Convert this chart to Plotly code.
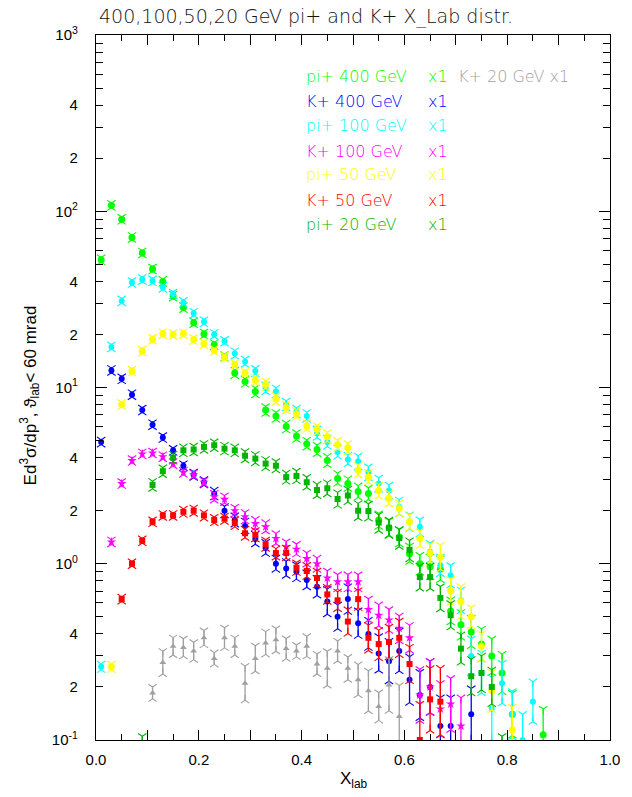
import plotly.graph_objects as go

# X_lab bin centres
x_bins = [0.01, 0.03, 0.05, 0.07, 0.09, 0.11, 0.13, 0.15, 0.17, 0.19,
          0.21, 0.23, 0.25, 0.27, 0.29, 0.31, 0.33, 0.35, 0.37, 0.39,
          0.41, 0.43, 0.45, 0.47, 0.49, 0.51, 0.53, 0.55, 0.57, 0.59,
          0.61, 0.63, 0.65, 0.67, 0.69, 0.71, 0.73, 0.75, 0.77, 0.79,
          0.81, 0.83, 0.85, 0.87]

# pi+ 400 GeV (first bin 0)
pi400_start = 0
pi400_y = [53, 108, 90, 71, 58, 47, 40, 33, 28.4, 23.3, 20.1, 17.5, 15.0, 12.1,
           10.8, 9.5, 7.45, 6.9, 6.0, 5.3, 4.8, 4.45, 3.85, 3.05, 2.85, 2.57, 2.5,
           1.77, 1.6, 1.42, 1.14, 1.0, 0.96, 0.93, 0.54, 0.45, 0.41, 0.35, 0.30,
           0.24, 0.14, None, None, 0.107]
pi400_err = [0.03, 0.03, 0.03, 0.03, 0.03, 0.03, 0.03, 0.03, 0.03, 0.03, 0.03, 0.03, 0.03, 0.04,
             0.04, 0.05, 0.05, 0.05, 0.05, 0.05, 0.05, 0.06, 0.06, 0.07, 0.07, 0.08, 0.08,
             0.09, 0.10, 0.10, 0.11, 0.12, 0.14, 0.15, 0.16, 0.18, 0.20, 0.22, 0.25,
             0.28, 0.32, None, None, 0.40]

# K+ 400 GeV (first bin 0)
k400_start = 0
k400_y = [4.9, 12.5, 11.2, 9.1, 7.45, 6.15, 5.2, 4.4, 3.6, 3.2, 2.9, 2.5, 2.0, 1.77,
          1.64, 1.38, 1.23, 1.0, 0.94, 0.9, 0.81, 0.74, 0.61, 0.50, 0.63, 0.46, 0.40,
          0.31, 0.28, 0.32, 0.22, 0.18, 0.2, 0.12, 0.12, None, 0.14]
k400_err = [0.03, 0.03, 0.03, 0.03, 0.03, 0.03, 0.03, 0.03, 0.03, 0.04, 0.04, 0.05, 0.06, 0.06,
            0.07, 0.07, 0.08, 0.08, 0.10, 0.10, 0.10, 0.12, 0.18, 0.17, 0.18, 0.18, 0.20,
            0.25, 0.30, 0.30, 0.35, 0.35, 0.40, 0.45, 0.45, None, 0.40]

# pi+ 100 GeV (first bin 0)
pi100_start = 0
pi100_y = [0.26, 17.0, 31.0, 39.4, 41.0, 40.3, 37.0, 33.9, 30.4, 26.4, 23.6, 20.0, 18.3,
           15.6, 14.0, 12.4, 9.9, 9.5, 8.0, 7.3, 6.9, 5.5, 4.9, 4.3, 3.9, 3.8, 3.3,
           2.85, 2.6, 2.1, 1.73, 1.62, 1.17, 0.98, 0.86, 0.62, 0.30, 0.24, 0.151,
           0.21, 0.14, 0.10, 0.165]
pi100_err = [0.04, 0.03, 0.03, 0.03, 0.03, 0.03, 0.03, 0.03, 0.03, 0.03, 0.03, 0.03, 0.03,
             0.04, 0.04, 0.04, 0.05, 0.05, 0.05, 0.05, 0.05, 0.06, 0.06, 0.06, 0.06, 0.08, 0.08,
             0.08, 0.08, 0.10, 0.10, 0.10, 0.12, 0.12, 0.14, 0.15, 0.25, 0.30, 0.50,
             0.30, 0.35, 0.40, 0.30]

# K+ 100 GeV (first bin 1)
k100_start = 1
k100_y = [1.33, 2.85, 3.85, 4.2, 4.25, 4.05, 3.7, 3.3, 3.2, 2.9, 2.4, 2.32, 2.0, 1.85,
          1.69, 1.62, 1.39, 1.25, 1.21, 1.07, 1.0, 0.83, 0.79, 0.79, 0.79, 0.55, 0.51,
          0.48, 0.43, 0.38, 0.18, 0.2, 0.15, 0.16, 0.12]
k100_err = [0.03, 0.03, 0.03, 0.03, 0.03, 0.03, 0.03, 0.03, 0.03, 0.03, 0.05, 0.05, 0.05, 0.06,
            0.06, 0.06, 0.07, 0.07, 0.07, 0.08, 0.08, 0.10, 0.10, 0.10, 0.10, 0.15, 0.15,
            0.15, 0.18, 0.18, 0.40, 0.40, 0.40, 0.40, 0.45]

# pi+ 50 GeV (first bin 1)
pi50_start = 1
pi50_y = [0.26, 8.0, 12.4, 16.1, 18.8, 20.2, 20.0, 20.2, 18.7, 17.7, 16.2, 14.9, 13.5,
          12.1, 11.0, 10.4, 8.6, 7.7, 7.1, 6.05, 5.8, 5.25, 4.75, 4.55, 3.40, 3.1, 2.6,
          2.35, 2.06, 1.73, 1.39, 1.15, 1.09, 0.70, 0.61, 0.50, 0.34, 0.19, None, 0.114]
pi50_err = [0.04, 0.03, 0.03, 0.03, 0.03, 0.03, 0.03, 0.03, 0.03, 0.03, 0.03, 0.03, 0.03,
            0.03, 0.04, 0.05, 0.05, 0.05, 0.05, 0.05, 0.05, 0.06, 0.06, 0.06, 0.07, 0.07, 0.08,
            0.08, 0.08, 0.09, 0.10, 0.12, 0.17, 0.17, 0.22, 0.13, 0.18, 0.28, None, 0.35]

# K+ 50 GeV (first bin 2)
k50_start = 2
k50_y = [0.63, 1.0, 1.35, 1.73, 1.88, 1.88, 1.97, 2.0, 1.88, 1.77, 1.8, 1.7, 1.49, 1.46,
         1.29, 1.15, 1.15, 0.95, 0.91, 0.83, 0.67, 0.62, 0.47, 0.63, 0.38, 0.35, 0.36,
         0.38, 0.27, 0.10, 0.17, 0.165]
k50_err = [0.03, 0.03, 0.03, 0.03, 0.03, 0.03, 0.04, 0.04, 0.04, 0.04, 0.04, 0.05, 0.06, 0.06,
           0.06, 0.06, 0.07, 0.07, 0.08, 0.10, 0.10, 0.12, 0.17, 0.12, 0.18, 0.20, 0.22,
           0.25, 0.25, 0.60, 0.50, 0.55]

# pi+ 20 GeV (first bin 4)
pi20_start = 4
pi20_y = [0.07, 2.8, 3.35, 4.0, 4.4, 4.45, 4.6, 4.7, 4.5, 4.4, 4.1, 3.95, 3.7, 3.6, 3.1,
          3.15, 2.9, 2.62, 2.68, 2.33, 2.44, 2.0, 1.99, 1.71, 1.6, 1.40, 1.20, 0.84, 0.84,
          0.64, 0.51, 0.33, 0.23, 0.24, 0.20, 0.075]
pi20_err = [0.50, 0.05, 0.05, 0.05, 0.05, 0.05, 0.05, 0.05, 0.05, 0.05, 0.06, 0.06, 0.06, 0.06,
            0.06, 0.07, 0.07, 0.08, 0.08, 0.09, 0.09, 0.10, 0.10, 0.11, 0.11, 0.12, 0.13,
            0.16, 0.16, 0.16, 0.17, 0.20, 0.25, 0.25, 0.25, 0.40]

# K+ 20 GeV (first bin 5)
k20_start = 5
k20_y = [0.185, 0.275, 0.34, 0.335, 0.32, 0.38, 0.29, 0.38, 0.34, 0.21, 0.29, 0.355, 0.37,
         0.33, 0.32, 0.34, 0.27, 0.255, 0.32, 0.255, 0.22, 0.19, 0.155, 0.205, 0.136]
k20_err = [0.08, 0.16, 0.12, 0.12, 0.12, 0.10, 0.08, 0.14, 0.12, 0.25, 0.18, 0.16, 0.16,
           0.14, 0.08, 0.14, 0.14, 0.25, 0.14, 0.16, 0.22, 0.30, 0.20, 0.40, 0.50]

# legend labels
labels = ["pi+ 400 GeV", "K+ 400 GeV", "pi+ 100 GeV", "K+ 100 GeV",
          "pi+ 50 GeV", "K+ 50 GeV", "pi+ 20 GeV"]
label_k20 = "K+ 20 GeV x1"
scale_text = "x1"

C_PI400 = "#00ff00"
C_K400 = "#0000ff"
C_PI100 = "#00ffff"
C_K100 = "#ff00ff"
C_PI50 = "#ffff00"
C_K50 = "#ff0000"
C_PI20 = "#00b400"
C_K20 = "#a0a0a0"

fig = go.Figure()


def add_series(start, ys, errs, color, symbol, size):
    xs, yv, up, dn, hi, lo = [], [], [], [], [], []
    for i, (v, e) in enumerate(zip(ys, errs)):
        if v is None:
            continue
        f = 1.0 + e
        xs.append(x_bins[start + i])
        yv.append(v)
        hi.append(v * f)
        lo.append(v / f)
        up.append(v * f - v)
        dn.append(v - v / f)
    fig.add_trace(go.Scatter(
        x=xs, y=yv, mode="markers",
        marker=dict(symbol=symbol, size=size, color=color, line=dict(width=0)),
        error_y=dict(type="data", symmetric=False, array=up, arrayminus=dn,
                     color=color, thickness=1.3, width=0),
        showlegend=False, hoverinfo="skip"))
    # Y-shaped caps at both ends of every error bar
    fig.add_trace(go.Scatter(
        x=xs + xs, y=hi + lo, mode="markers",
        marker=dict(symbol=["y-down"] * len(hi) + ["y-up"] * len(lo), size=7,
                    color=color, line=dict(color=color, width=1.1)),
        showlegend=False, hoverinfo="skip"))


add_series(pi400_start, pi400_y, pi400_err, C_PI400, "circle", 7)
add_series(k400_start, k400_y, k400_err, C_K400, "circle", 6)
add_series(pi100_start, pi100_y, pi100_err, C_PI100, "circle", 6)
add_series(k100_start, k100_y, k100_err, C_K100, "star", 7)
add_series(pi50_start, pi50_y, pi50_err, C_PI50, "circle", 7)
add_series(k50_start, k50_y, k50_err, C_K50, "square", 6)
add_series(pi20_start, pi20_y, pi20_err, C_PI20, "square", 6)
add_series(k20_start, k20_y, k20_err, C_K20, "triangle-up", 6)

# log-axis ticks: labels on decades, 2x and 4x; plain ticks on other multiples
y_tickvals, y_ticktext, y_minor = [], [], []
for p in [-1, 0, 1, 2]:
    for m in range(1, 10):
        if m == 1:
            y_tickvals.append(m * 10 ** p)
            y_ticktext.append("10<sup>%d</sup>" % p)
        elif m in (2, 4):
            y_tickvals.append(m * 10 ** p)
            y_ticktext.append(str(m))
        else:
            y_minor.append(m * 10 ** p)
y_tickvals.append(1000)
y_ticktext.append("10<sup>3</sup>")
decades = [0.1, 1, 10, 100, 1000]

x_tickvals = [0.0, 0.2, 0.4, 0.6, 0.8, 1.0]
x_ticktext = ["0.0", "0.2", "0.4", "0.6", "0.8", "1.0"]
x_odd_tenths = [0.1, 0.3, 0.5, 0.7, 0.9]
x_minor = [0.05, 0.15, 0.25, 0.35, 0.45, 0.55, 0.65, 0.75, 0.85, 0.95]

tick_font = dict(family="Liberation Sans, Arial, sans-serif", size=15, color="black")

fig.update_layout(
    width=632, height=797,
    margin=dict(l=96, r=14, t=35, b=57),
    paper_bgcolor="white", plot_bgcolor="white",
    showlegend=False,
    xaxis=dict(range=[0, 1], showgrid=False, zeroline=False,
               showline=True, linecolor="black", linewidth=1.2, mirror="ticks",
               ticks="inside", ticklen=10, tickwidth=1.2, tickcolor="black",
               tickmode="array", tickvals=x_tickvals, ticktext=x_ticktext,
               tickfont=tick_font, ticklabelstandoff=6,
               minor=dict(tickmode="array", tickvals=x_minor, ticks="inside",
                          ticklen=6, tickwidth=1.2, tickcolor="black")),
    xaxis2=dict(range=[0, 1], overlaying="x", side="bottom",
                showgrid=False, zeroline=False, showline=False, mirror="ticks",
                ticks="inside", ticklen=10, tickwidth=1.2, tickcolor="black",
                tickmode="array", tickvals=x_odd_tenths, showticklabels=False),
    yaxis=dict(type="log", range=[-1, 3], showgrid=False, zeroline=False,
               showline=True, linecolor="black", linewidth=1.2, mirror="ticks",
               ticks="inside", ticklen=7, tickwidth=1.2, tickcolor="black",
               tickmode="array", tickvals=y_tickvals, ticktext=y_ticktext,
               tickfont=tick_font, ticklabelstandoff=14,
               minor=dict(tickmode="array", tickvals=y_minor, ticks="inside",
                          ticklen=7, tickwidth=1.2, tickcolor="black")),
    yaxis2=dict(type="log", range=[-1, 3], overlaying="y", side="left",
                showgrid=False, zeroline=False, showline=False, mirror="ticks",
                ticks="inside", ticklen=11, tickwidth=1.2, tickcolor="black",
                tickmode="array", tickvals=decades, showticklabels=False),
)

# invisible trace that carries the overlay axes for the long ticks
fig.add_trace(go.Scatter(x=[0.5], y=[1], xaxis="x2", yaxis="y2", mode="markers",
                         marker=dict(opacity=0), showlegend=False, hoverinfo="skip"))

PX0, PW, PY0, PH = 95.7, 522.3, 740.0, 705.0


def px(xp):
    return (xp - PX0) / PW


def py(yp):
    return (PY0 - yp) / PH


text_font = "DejaVu Sans, sans-serif"

fig.add_annotation(text="400,100,50,20 GeV pi+ and K+ X_Lab distr.",
                   xref="paper", yref="paper", x=px(97), y=py(17),
                   xanchor="left", yanchor="middle", showarrow=False,
                   font=dict(family=text_font, size=19, color="#111111", weight=300))

legend_colors = [C_PI400, C_K400, C_PI100, C_K100, C_PI50, C_K50, C_PI20]
legend_rows = [77, 101, 126, 151, 175, 200, 225]
for lab, col, row in zip(labels, legend_colors, legend_rows):
    fig.add_annotation(text=lab, xref="paper", yref="paper", x=px(307), y=py(row),
                       xanchor="left", yanchor="middle", showarrow=False,
                       font=dict(family=text_font, size=16, color=col, weight=300))
    fig.add_annotation(text=scale_text, xref="paper", yref="paper", x=px(431), y=py(row),
                       xanchor="left", yanchor="middle", showarrow=False,
                       font=dict(family=text_font, size=16, color=col, weight=300))
fig.add_annotation(text=label_k20, xref="paper", yref="paper", x=px(462), y=py(77),
                   xanchor="left", yanchor="middle", showarrow=False,
                   font=dict(family=text_font, size=16, color=C_K20, weight=300))

fig.add_annotation(text="X<sub>lab</sub>", xref="paper", yref="paper",
                   x=px(358), y=py(780), xanchor="center", yanchor="middle",
                   showarrow=False,
                   font=dict(family="Liberation Sans, Arial, sans-serif", size=17, color="black"))
fig.add_annotation(text="Ed<sup>3</sup>σ/dp<sup>3</sup>, ϑ<sub>lab</sub>< 60 mrad",
                   xref="paper", yref="paper", x=px(28), y=py(395),
                   xanchor="center", yanchor="middle", textangle=-90, showarrow=False,
                   font=dict(family="Liberation Sans, Arial, sans-serif", size=17, color="black"))

fig.write_html("out.html")
